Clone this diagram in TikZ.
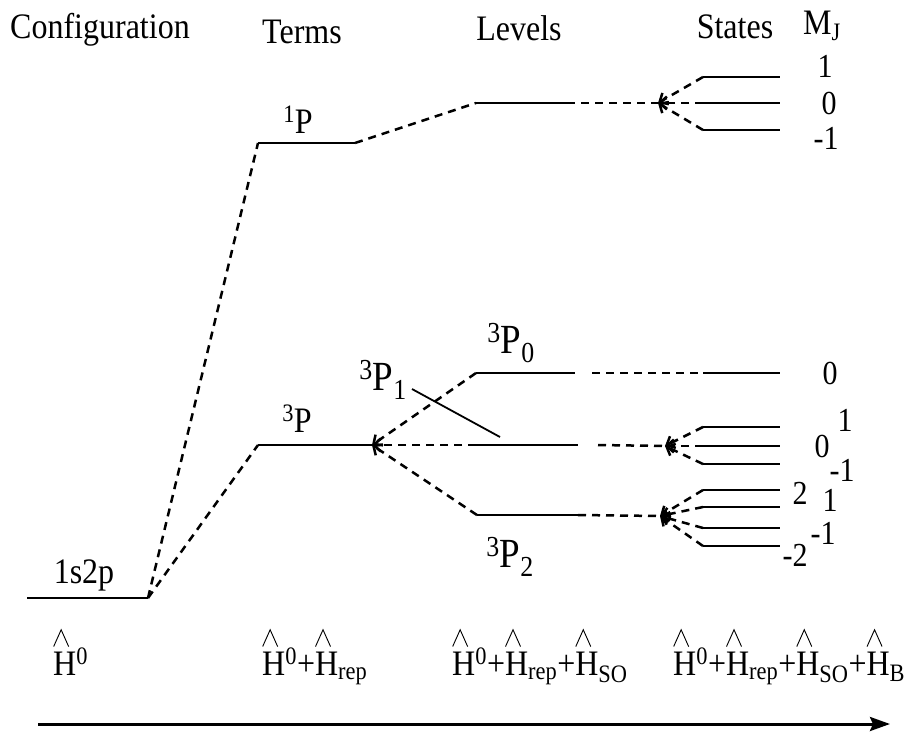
\documentclass[tikz,border=0pt]{standalone}
\usepackage{fontspec}
\setmainfont{Liberation Serif}
\usetikzlibrary{arrows.meta}
\newcommand\fsz[1]{\fontsize{#1}{#1}\selectfont}
\newcommand\T[1]{\scalebox{1}[1.12]{#1}}
\newsavebox\hatbox
\AtBeginDocument{\sbox\hatbox{\pgfpicture\pgfsetlinewidth{0.9pt}\pgfsetmiterjoin
  \pgfpathmoveto{\pgfpoint{0pt}{0pt}}\pgfpathlineto{\pgfpoint{7.5pt}{15pt}}\pgfpathlineto{\pgfpoint{15pt}{0pt}}\pgfusepath{stroke}\endpgfpicture}}
\newcommand\hH{\ooalign{H\cr\raisebox{0.78em}{\usebox\hatbox}\hidewidth\cr}}
\begin{document}
\begin{tikzpicture}[x=1pt,y=-1pt,
  lvl/.style={line width=2.6pt},
  dsh/.style={line width=2.5pt,dash pattern=on 8pt off 6pt},
  barb/.style={-{Straight Barb[length=7pt,width=13pt]}},
  lbl/.style={font=\fsz{32},inner sep=0pt},
  big/.style={font=\fsz{37},inner sep=0pt},
  mj/.style={font=\fsz{30},inner sep=0pt},
  ham/.style={font=\fsz{32},inner sep=0pt,anchor=base west}]
\useasboundingbox (0,0) rectangle (910,731);
% coordinates of energy lines
\coordinate (c1) at (27,598); \coordinate (c2) at (148,598);
\coordinate (t1a) at (258,143); \coordinate (t1b) at (355,143);
\coordinate (t3a) at (258,445); \coordinate (t3b) at (372,445);
\coordinate (l1a) at (476,103); \coordinate (l1b) at (567,103);
\coordinate (p0a) at (476,373); \coordinate (p0b) at (575,373);
\coordinate (p1a) at (476,445); \coordinate (p1b) at (578,445);
\coordinate (p2a) at (477,515); \coordinate (p2b) at (578,515);
\coordinate (g0) at (592,373); \coordinate (g1) at (598,445);
% state tips
\coordinate (ta) at (658,103);
\coordinate (tb) at (665,446);
\coordinate (tc) at (660,516);
% state lines
\foreach \n/\y in {a1/77,a2/103,a3/130,b1/427,b2/446,b3/464,c1/490,c2/507,c3/528,c4/546,o/373}{
  \coordinate (s\n l) at (703,\y); \coordinate (s\n r) at (780,\y);
  \draw[lvl] (s\n l) -- (s\n r);
}
% solid lines
\draw[lvl] (c1) -- (c2);
\draw[lvl] (t1a) -- (t1b);
\draw[lvl] (t3a) -- (t3b);
\draw[lvl] (l1a) -- (l1b);
\draw[lvl] (p0a) -- (p0b);
\draw[lvl] (p1a) -- (p1b);
\draw[lvl] (p2a) -- (p2b);
% dashed connectors
\draw[dsh] (c2) -- (t1a);
\draw[dsh] (c2) -- (t3a);
\draw[dsh] (t1b) -- (l1a);
\draw[dsh,barb] (p0a) -- (t3b);
\draw[dsh,barb] (p1a) -- (t3b);
\draw[dsh,barb] (p2a) -- (t3b);
\draw[dsh] (l1b) -- (ta);
\draw[dsh] (g0) -- (sol);
\draw[dsh] (g1) -- (tb);
\draw[dsh] (p2b) -- (tc);
\foreach \s in {a1,a2,a3}{\draw[dsh,barb] (s\s l) -- (ta);}
\foreach \s in {b1,b2,b3}{\draw[dsh,barb] (s\s l) -- (tb);}
\foreach \s in {c1,c2,c3,c4}{\draw[dsh,barb] (s\s l) -- (tc);}
% headings
\node[lbl,anchor=base] (hconf) at (100,38) {\T{Configuration}};
\node[lbl,anchor=base] (hterm) at (302,43) {\T{Terms}};
\node[lbl,anchor=base] (hlev) at (519,40) {\T{Levels}};
\node[lbl,anchor=base] (hsta) at (735,38) {\T{States}};
\node[lbl,anchor=base west] (hmj) at (803,34) {\T{M\textsubscript{J}}};
% labels
\node[lbl,anchor=base] (l1s2p) at (84,583) {\T{1s2p}};
\node[lbl,anchor=base] (l1P) at (298,133) {\T{\textsuperscript{1}P}};
\node[lbl,anchor=base] (l3P) at (297,432) {\T{\textsuperscript{3}P}};
\node[big,anchor=base] (l3P0) at (511,353) {\T{\textsuperscript{3}P\textsubscript{0}}};
\node[big,anchor=base] (l3P1) at (383,390) {\T{\textsuperscript{3}P\textsubscript{1}}};
\node[big,anchor=base] (l3P2) at (510,567) {\T{\textsuperscript{3}P\textsubscript{2}}};
\coordinate (ptrs) at (412,389);
\coordinate (ptr) at (500,437);
\draw[line width=1.8pt] (ptrs) -- (ptr);
% M_J values
\node[mj] (ma1) at (825,66) {\T{1}};
\node[mj] (ma2) at (829,103) {\T{0}};
\node[mj] (ma3) at (826,138) {\T{-1}};
\node[mj] (mo) at (830,373) {\T{0}};
\node[mj] (mb1) at (845,420) {\T{1}};
\node[mj] (mb2) at (822,446) {\T{0}};
\node[mj] (mb3) at (842,470) {\T{-1}};
\node[mj] (mc1) at (800,493) {\T{2}};
\node[mj] (mc2) at (830,500) {\T{1}};
\node[mj] (mc3) at (823,533) {\T{-1}};
\node[mj] (mc4) at (795,555) {\T{-2}};
% Hamiltonians
\node[ham] (h1) at (53,675) {\T{\hH\textsuperscript{0}}};
\node[ham] (h2) at (262,675) {\T{\hH\textsuperscript{0}+\hH\textsubscript{rep}}};
\node[ham] (h3) at (452,675) {\T{\hH\textsuperscript{0}+\hH\textsubscript{rep}+\hH\textsubscript{SO}}};
\node[ham] (h4) at (673,675) {\T{\hH\textsuperscript{0}+\hH\textsubscript{rep}+\hH\textsubscript{SO}+\hH\textsubscript{B}}};
% arrow
\coordinate (ax1) at (38,724); \coordinate (ax2) at (890,724);
\draw[line width=3pt,-{Stealth[length=20pt,width=14pt,inset=3pt]}] (ax1) -- (ax2);
\end{tikzpicture}
\end{document}
